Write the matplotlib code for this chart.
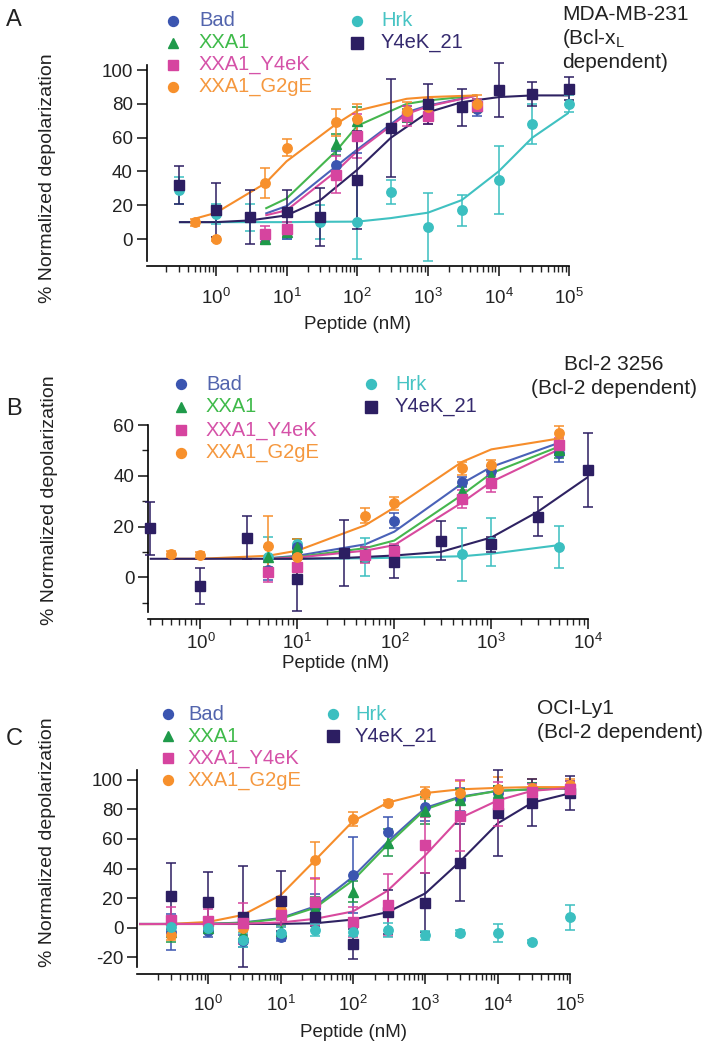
import matplotlib
matplotlib.use('Agg')
import matplotlib.pyplot as plt
import numpy as np
from matplotlib.ticker import LogLocator, FixedLocator, NullFormatter, LogFormatterSciNotation

plt.rcParams['font.family'] = ['Liberation Sans', 'DejaVu Sans']
plt.rcParams['mathtext.fontset'] = 'custom'
plt.rcParams['mathtext.rm'] = 'Liberation Sans'
plt.rcParams['mathtext.it'] = 'Liberation Sans:italic'
plt.rcParams['mathtext.bf'] = 'Liberation Sans:bold'
plt.rcParams['axes.unicode_minus'] = False

# ---------------- series names ----------------
series_names = ['Bad', 'XXA1', 'XXA1_Y4eK', 'XXA1_G2gE', 'Hrk', 'Y4eK_21']

# ---------------- Panel A (MDA-MB-231) ----------------
A_conc_pep = [5, 10, 50, 100, 500, 1000, 5000]
A_conc_g2ge = [0.5, 1, 5, 10, 50, 100, 500, 1000, 5000]
A_conc_full = [0.3, 1, 3, 10, 30, 100, 300, 1000, 3000, 1e4, 3e4, 1e5]

A_bad = [1, 4, 44, 61, 74, 74, 77]
A_bad_err = [3, 4, 8, 10, 5, 4, 4]
A_xxa1 = [0, 4, 56, 70, 73, 74, 79]
A_xxa1_err = [3, 3, 6, 8, 4, 4, 4]
A_y4ek = [3, 6, 38, 61, 73, 73, 79]
A_y4ek_err = [5, 4, 11, 13, 6, 5, 4]
A_g2ge = [10, 0, 33, 54, 69, 71, 76, 78, 80]
A_g2ge_err = [2, 1, 9, 5, 8, 9, 5, 5, 5]
A_hrk = [29, 15, 13, 5, 10, 10, 28, 7, 17, 35, 68, 80]
A_hrk_err = [8, 6, 8, 5, 10, 22, 7, 20, 9, 20, 12, 5]
A_y4ek21 = [32, 17, 13, 16, 13, 35, 66, 80, 78, 88, 86, 89]
A_y4ek21_err = [11, 16, 16, 13, 17, 29, 29, 12, 11, 16, 7, 7]

A_fit_bad = [15, 19.5, 43, 53, 75, 79, 85]
A_fit_xxa1 = [18, 24, 52, 67, 80, 82, 85]
A_fit_y4ek = [14, 17, 40, 52, 74, 78.5, 85]
A_fit_g2ge = [12, 15.5, 33, 46, 68, 76, 83, 84, 85]
A_fit_hrk = [10, 10, 10, 10, 10.2, 10.3, 12.4, 15.6, 23, 40, 60, 75]
A_fit_y4ek21 = [10, 10, 11, 14, 23, 41, 60, 75, 81, 84, 85, 85]

# ---------------- Panel B (Bcl-2 3256) ----------------
B_conc_pep = [5, 10, 50, 100, 500, 1000, 5000]
B_conc_g2ge = [0.5, 1, 5, 10, 50, 100, 500, 1000, 5000]
B_conc_hrk = [5, 10, 50, 500, 1000, 5000]
B_conc_y4ek21 = [0.3, 1, 3, 10, 30, 100, 300, 1000, 3000, 1e4]

B_bad = [3, 12, 9, 22.3, 37.6, 41.8, 48.8]
B_bad_err = [4, 3, 3, 3, 2, 2, 3.5]
B_xxa1 = [8, 12, 9, 9, 34, 40, 50]
B_xxa1_err = [4, 3, 3, 3, 2, 2, 3]
B_y4ek = [2.2, 4, 8.8, 10.3, 30.8, 37, 52]
B_y4ek_err = [4, 4, 3, 3, 3.5, 3.5, 3]
B_g2ge = [9.2, 8.8, 12.3, 8, 24.3, 29.1, 42.9, 44.2, 57]
B_g2ge_err = [1, 1, 12, 7, 3, 2.5, 2.5, 2, 2.5]
B_hrk = [8, 13, 8, 9, 14, 12]
B_hrk_err = [8, 2, 7.5, 10.5, 9.5, 8.3]
B_y4ek21 = [19.3, -3.4, 15.6, -0.8, 9.7, 6.1, 14.4, 13, 23.9, 42.2]
B_y4ek21_err = [10.5, 7, 8.5, 12.5, 13, 6.3, 7.6, 3, 7.8, 14.5]

B_fit_bad = [7.5, 8.5, 13, 18, 37, 43.5, 53]
B_fit_xxa1 = [7.5, 8, 11.5, 14.5, 32.5, 41, 51.5]
B_fit_y4ek = [7.3, 7.8, 10.5, 12.7, 29.5, 37.6, 50.4]
B_fit_g2ge = [7.3, 7.3, 8.5, 10.5, 20.5, 27.5, 45.5, 50.4, 54.7]
B_fit_hrk = [7.3, 7.3, 7.5, 8.3, 9.3, 12.7]
B_fit_y4ek21 = [7.3, 7.3, 7.3, 7.3, 7.6, 8.6, 10, 15.7, 25.8, 39.6]

# ---------------- Panel C (OCI-Ly1) ----------------
C_conc = [0.3, 1, 3, 10, 30, 100, 300, 1000, 3000, 1e4, 3e4, 1e5]
C_fit_x = [0.11, 0.3, 1, 3, 10, 30, 100, 300, 1000, 3000, 1e4, 3e4, 1e5]

C_bad = [-3, -2, -9, -6, 13, 35.6, 65, 81.8, 86.7, 91, 93, 94]
C_bad_err = [12, 4, 4, 3, 10, 26, 10, 10, 8, 5, 5, 5]
C_xxa1 = [-3, 0, -4, -2, 13, 24.3, 57.4, 79, 86, 91, 93, 94]
C_xxa1_err = [7, 3, 5, 3, 8, 7, 9, 9, 8, 5, 5, 5]
C_y4ek = [5.2, 4.5, 3, 8.6, 17.6, 4, 15.3, 55.9, 75.5, 83.4, 92, 94]
C_y4ek_err = [9, 8, 14, 8, 16, 10, 21, 19, 24, 15, 5, 5]
C_g2ge = [-5, 2, 0, 12, 45.7, 73.4, 84.5, 90.8, 90.8, 93.5, 94.2, 96.4]
C_g2ge_err = [3, 2, 3, 5, 12.5, 5, 2, 4, 8, 8, 6, 4]
C_hrk = [0.7, 0, -8.3, -3.4, -1.8, -2.7, -1.5, -5, -3.4, -3.8, -9.5, 7]
C_hrk_err = [3, 2, 5, 4, 4, 3, 5, 3, 2, 6, 1, 8.5]
C_y4ek21 = [21.4, 17.6, 7.4, 18, 7.4, -11, 10.8, 17, 43.9, 77.3, 84.5, 90.8]
C_y4ek21_err = [22, 20, 34, 20, 6, 10, 15, 20, 26, 29, 16, 11.5]

C_fit_bad = [2.5, 2.5, 2.6, 3.5, 6.5, 14.4, 34.5, 58, 81, 88.5, 92.5, 93.5, 94]
C_fit_xxa1 = [2.5, 2.5, 2.6, 3.3, 6, 13.5, 32, 56, 80, 88, 92.5, 93.5, 94]
C_fit_y4ek = [2.5, 2.5, 2.5, 2.7, 3.5, 6, 11, 25, 49, 74, 86, 92.5, 94.5]
C_fit_g2ge = [2.4, 2.5, 3.9, 8.6, 22, 45.7, 72, 84.5, 91, 93.5, 94.5, 95, 95]
C_fit_y4ek21 = [2.5, 2.5, 2.5, 2.5, 2.6, 3, 5.5, 10.5, 23.2, 44.6, 70.5, 84.5, 90.8]

# ---------------- styles ----------------
marker_color = {'Bad': '#3b55b0', 'XXA1': '#1f9a4a', 'XXA1_Y4eK': '#d6449f',
                'XXA1_G2gE': '#f7902c', 'Hrk': '#3bbfc0', 'Y4eK_21': '#2c1e62'}
line_color = {'Bad': '#4a62b8', 'XXA1': '#45b64e', 'XXA1_Y4eK': '#d84a9e',
              'XXA1_G2gE': '#f68d2b', 'Hrk': '#40c1c1', 'Y4eK_21': '#2e2262'}
text_color = {'Bad': '#5264ad', 'XXA1': '#3fba4a', 'XXA1_Y4eK': '#d552a8',
              'XXA1_G2gE': '#f5983f', 'Hrk': '#48c4c4', 'Y4eK_21': '#34296e'}
marker_shape = {'Bad': 'o', 'XXA1': '^', 'XXA1_Y4eK': 's', 'XXA1_G2gE': 'o',
                'Hrk': 'o', 'Y4eK_21': 's'}
marker_size = {'Bad': 6.8, 'XXA1': 7.0, 'XXA1_Y4eK': 7.2, 'XXA1_G2gE': 6.8,
               'Hrk': 6.8, 'Y4eK_21': 7.6}

fig = plt.figure(figsize=(7.11, 10.5), dpi=100)
W, H = 711.0, 1050.0


def px_axes(left, top, right, bottom):
    return fig.add_axes([left / W, 1 - bottom / H, (right - left) / W, (bottom - top) / H])


def draw(ax, name, x, y, err, fx=None, fy=None):
    if fx is not None:
        ax.plot(fx, fy, color=line_color[name], lw=1.5, zorder=2, solid_capstyle='butt')
    ax.errorbar(x, y, yerr=err, fmt=marker_shape[name], ms=marker_size[name],
                color=marker_color[name], mec=marker_color[name], ecolor=marker_color[name],
                elinewidth=1.1, capsize=3.6, capthick=1.1, zorder=3, clip_on=False)


def style_axes(ax, xlim, ylim, yticks, offset, yminor=None):
    ax.set_xscale('log')
    ax.set_xlim(*xlim)
    ax.set_ylim(*ylim)
    for s in ['top', 'right']:
        ax.spines[s].set_visible(False)
    for s in ['left', 'bottom']:
        ax.spines[s].set_linewidth(1.2)
    ax.spines['bottom'].set_position(('outward', offset))
    ax.set_yticks(yticks)
    ax.xaxis.set_major_locator(LogLocator(base=10, numticks=20))
    ax.xaxis.set_major_formatter(LogFormatterSciNotation())
    ax.xaxis.set_minor_locator(LogLocator(base=10, subs=np.arange(2, 10), numticks=50))
    ax.xaxis.set_minor_formatter(NullFormatter())
    if yminor is not None:
        ax.yaxis.set_minor_locator(FixedLocator(yminor))
    ax.tick_params(axis='both', which='major', direction='out', length=7, width=1.2,
                   labelsize=13.5, colors='#222222')
    ax.tick_params(axis='y', which='major', pad=3)
    ax.tick_params(axis='x', which='major', pad=8.5)
    ax.tick_params(axis='both', which='minor', direction='out', length=4, width=1.0,
                   colors='#222222')
    ax.set_xlabel('Peptide (nM)', fontsize=13.5, labelpad=6, color='#222222')
    ax.patch.set_alpha(0)


# ---------------- Panel A ----------------
axA = px_axes(146.7, 65, 569.3, 261)
draw(axA, 'Hrk', A_conc_full, A_hrk, A_hrk_err, A_conc_full, A_fit_hrk)
draw(axA, 'Bad', A_conc_pep, A_bad, A_bad_err, A_conc_pep, A_fit_bad)
draw(axA, 'XXA1', A_conc_pep, A_xxa1, A_xxa1_err, A_conc_pep, A_fit_xxa1)
draw(axA, 'XXA1_Y4eK', A_conc_pep, A_y4ek, A_y4ek_err, A_conc_pep, A_fit_y4ek)
draw(axA, 'XXA1_G2gE', A_conc_g2ge, A_g2ge, A_g2ge_err, A_conc_g2ge, A_fit_g2ge)
draw(axA, 'Y4eK_21', A_conc_full, A_y4ek21, A_y4ek21_err, A_conc_full, A_fit_y4ek21)
style_axes(axA, (0.105, 1e5), (-13, 103), [0, 20, 40, 60, 80, 100], 3.6)

# ---------------- Panel B ----------------
axB = px_axes(148.3, 425, 588.3, 611.6)
draw(axB, 'Hrk', B_conc_hrk, B_hrk, B_hrk_err, B_conc_hrk, B_fit_hrk)
draw(axB, 'Bad', B_conc_pep, B_bad, B_bad_err, B_conc_pep, B_fit_bad)
draw(axB, 'XXA1', B_conc_pep, B_xxa1, B_xxa1_err, B_conc_pep, B_fit_xxa1)
draw(axB, 'XXA1_Y4eK', B_conc_pep, B_y4ek, B_y4ek_err, B_conc_pep, B_fit_y4ek)
draw(axB, 'XXA1_G2gE', B_conc_g2ge, B_g2ge, B_g2ge_err, B_conc_g2ge, B_fit_g2ge)
draw(axB, 'Y4eK_21', B_conc_y4ek21, B_y4ek21, B_y4ek21_err, B_conc_y4ek21, B_fit_y4ek21)
style_axes(axB, (0.29, 1e4), (-13.5, 60), [0, 20, 40, 60], 5.5, yminor=[-10, 10, 30, 50])
axB.tick_params(axis='x', which='major', pad=3)
# label in panel B sits left of centre, close under the tick labels
axB.xaxis.set_label_coords((335 - 148.3) / 440.0, (611.6 - 655) / 186.6)

# ---------------- Panel C ----------------
axC = px_axes(137.3, 770.1, 570, 966.9)
draw(axC, 'Bad', C_conc, C_bad, C_bad_err, C_fit_x, C_fit_bad)
draw(axC, 'XXA1', C_conc, C_xxa1, C_xxa1_err, C_fit_x, C_fit_xxa1)
draw(axC, 'XXA1_G2gE', C_conc, C_g2ge, C_g2ge_err, C_fit_x, C_fit_g2ge)
draw(axC, 'Y4eK_21', C_conc, C_y4ek21, C_y4ek21_err, C_fit_x, C_fit_y4ek21)
draw(axC, 'XXA1_Y4eK', C_conc, C_y4ek, C_y4ek_err, C_fit_x, C_fit_y4ek)
draw(axC, 'Hrk', C_conc, C_hrk, C_hrk_err)
style_axes(axC, (0.104, 1e5), (-26.5, 106.5), [-20, 0, 20, 40, 60, 80, 100], 5)

# ---------------- overlay: legends, titles, labels ----------------
ov = fig.add_axes([0, 0, 1, 1])
ov.set_xlim(0, W)
ov.set_ylim(H, 0)
ov.axis('off')

LEG_FS = 14.5


def legend_block(col1_mx, col1_tx, col2_mx, col2_tx, rows):
    left = ['Bad', 'XXA1', 'XXA1_Y4eK', 'XXA1_G2gE']
    right = ['Hrk', 'Y4eK_21']
    for i, nm in enumerate(left):
        ov.plot([col1_mx], [rows[i]], marker=marker_shape[nm], ms=marker_size[nm] * 1.05,
                color=marker_color[nm], ls='none')
        ov.text(col1_tx, rows[i], nm, color=text_color[nm], fontsize=LEG_FS,
                ha='left', va='center')
    for i, nm in enumerate(right):
        ov.plot([col2_mx], [rows[i]], marker=marker_shape[nm], ms=marker_size[nm] * 1.05,
                color=marker_color[nm], ls='none')
        ov.text(col2_tx, rows[i], nm, color=text_color[nm], fontsize=LEG_FS,
                ha='left', va='center')


legend_block(173, 199, 357, 381, [21, 43, 65, 87])
legend_block(181, 206, 371, 395, [384, 407, 430, 453])
legend_block(168, 188, 333, 355, [714, 736, 758, 780])

TFS = 15
ov.text(562, 14, 'MDA-MB-231', fontsize=TFS, ha='left', va='center', color='#222222')
ov.text(562, 38, r'(Bcl-x$_\mathrm{L}$', fontsize=TFS, ha='left', va='center', color='#222222')
ov.text(562, 62, 'dependent)', fontsize=TFS, ha='left', va='center', color='#222222')
ov.text(614, 364, 'Bcl-2 3256', fontsize=TFS, ha='center', va='center', color='#222222')
ov.text(614, 388, '(Bcl-2 dependent)', fontsize=TFS, ha='center', va='center', color='#222222')
ov.text(537, 708, 'OCI-Ly1', fontsize=TFS, ha='left', va='center', color='#222222')
ov.text(537, 732, '(Bcl-2 dependent)', fontsize=TFS, ha='left', va='center', color='#222222')

PFS = 17
ov.text(14, 20, 'A', fontsize=PFS, ha='center', va='center', color='#222222')
ov.text(14, 409, 'B', fontsize=PFS, ha='center', va='center', color='#222222')
ov.text(14, 739, 'C', fontsize=PFS, ha='center', va='center', color='#222222')

YFS = 14
ov.text(48, 178, '% Normalized depolarization', fontsize=YFS, rotation=90,
        ha='center', va='center', color='#222222')
ov.text(50, 500, '% Normalized depolarization', fontsize=YFS, rotation=90,
        ha='center', va='center', color='#222222')
ov.text(48, 842, '% Normalized depolarization', fontsize=YFS, rotation=90,
        ha='center', va='center', color='#222222')

fig.savefig('out.png', dpi=100)
